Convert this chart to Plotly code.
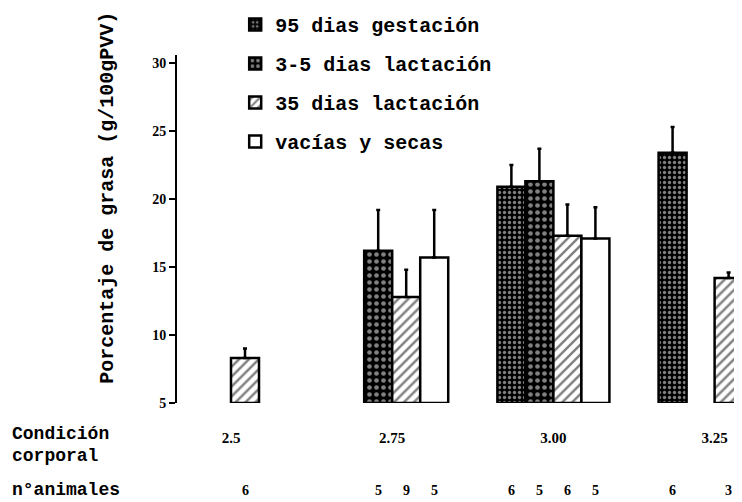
import plotly.graph_objects as go

# ---- data ----
categories = ["2.5", "2.75", "3.00", "3.25"]
series_names = ["95 dias gestación", "3-5 dias lactación", "35 dias lactación", "vacías y secas"]
gest95 = [None, None, 20.9, 23.4]
gest95_err = [None, None, 22.5, 25.3]
lact35d = [None, 16.2, 21.3, None]
lact35d_err = [None, 19.2, 23.7, None]
lact35 = [8.3, 12.8, 17.3, 14.2]
lact35_err = [9.0, 14.8, 19.6, 14.6]
vacias = [None, 15.7, 17.1, None]
vacias_err = [None, 19.2, 19.4, None]
n_animales = [[None, None, 6, None], [None, 5, 9, 5], [6, 5, 6, 5], [6, None, 3, None]]
y_ticks = [5, 10, 15, 20, 25, 30]
BASE = 5

values = [gest95, lact35d, lact35, vacias]
errors = [gest95_err, lact35d_err, lact35_err, vacias_err]
patterns = [
    dict(shape=".", bgcolor="black", fgcolor="white", size=5, solidity=0.35),
    dict(shape=".", bgcolor="black", fgcolor="white", size=7, solidity=0.35),
    dict(shape="/", bgcolor="white", fgcolor="black", size=7, solidity=0.35),
    dict(shape="", bgcolor="white", fgcolor="black"),
]
colors = ["black", "black", "white", "white"]

xpos = list(range(len(categories)))
fig = go.Figure()
for i, name in enumerate(series_names):
    vals = values[i]
    errs = errors[i]
    ys = [None if v is None else v - BASE for v in vals]
    ep = [0 if v is None else e - v for v, e in zip(vals, errs)]
    fig.add_trace(go.Bar(
        x=xpos, y=ys, base=BASE, name=name, legendgroup=name,
        marker=dict(color=colors[i], line=dict(color="black", width=2.5), pattern=patterns[i]),
        error_y=dict(type="data", array=ep, arrayminus=[0] * len(ep), symmetric=False,
                     color="black", thickness=2.5, width=2),
    ))

bargap = 0.305
nser = len(series_names)
slot = (1 - bargap) / nser
mono = "Liberation Mono"
serif = "Liberation Serif"

annotations = []
for g, counts in enumerate(n_animales):
    for s, c in enumerate(counts):
        if c is None:
            continue
        off = -(1 - bargap) / 2 + slot * (s + 0.5)
        annotations.append(dict(x=g + off, y=-0.25, xref="x", yref="paper", text=str(c),
                                xanchor="center", yanchor="middle", showarrow=False,
                                font=dict(family=serif, size=14, color="black", weight="bold")))

label_font = dict(family=mono, size=18, color="black", weight="bold")
lx = -0.295
annotations += [
    dict(x=lx, y=-0.089, xref="paper", yref="paper", xanchor="left", yanchor="middle",
         text="Condición", showarrow=False, font=label_font),
    dict(x=lx, y=-0.152, xref="paper", yref="paper", xanchor="left", yanchor="middle",
         text="corporal", showarrow=False, font=label_font),
    dict(x=lx, y=-0.25, xref="paper", yref="paper", xanchor="left", yanchor="middle",
         text="n°animales", showarrow=False, font=label_font),
    dict(x=-0.122, y=0.59, xref="paper", yref="paper", textangle=-90,
         xanchor="center", yanchor="middle",
         text="Porcentaje de grasa (g/100gPVV)", showarrow=False,
         font=dict(family=mono, size=20, color="black", weight="bold")),
]

fig.update_layout(
    width=742, height=502,
    margin=dict(l=169, r=8, t=47, b=107, autoexpand=False),
    paper_bgcolor="white", plot_bgcolor="white",
    barmode="group", bargap=bargap, bargroupgap=0,
    showlegend=True,
    legend=dict(x=0.103, y=1.144, xanchor="left", yanchor="top",
                font=dict(family=mono, size=20, color="black", weight="bold"),
                tracegroupgap=10, bgcolor="rgba(0,0,0,0)"),
    annotations=annotations,
    xaxis=dict(range=[-0.335, 3.17], tickvals=xpos, ticktext=categories, automargin=False,
               showline=False, showgrid=False, zeroline=False, ticks="",
               ticklabelstandoff=24,
               tickfont=dict(family=serif, size=15, color="black", weight="bold")),
    yaxis=dict(range=[BASE, 30.59], tickvals=y_ticks, automargin=False,
               showline=True, linecolor="black", linewidth=2, ticks="outside", ticklen=6,
               tickwidth=2, tickcolor="black", showgrid=False, zeroline=False,
               tickfont=dict(family=serif, size=14, color="black", weight="bold")),
)

fig.write_html("out.html")
